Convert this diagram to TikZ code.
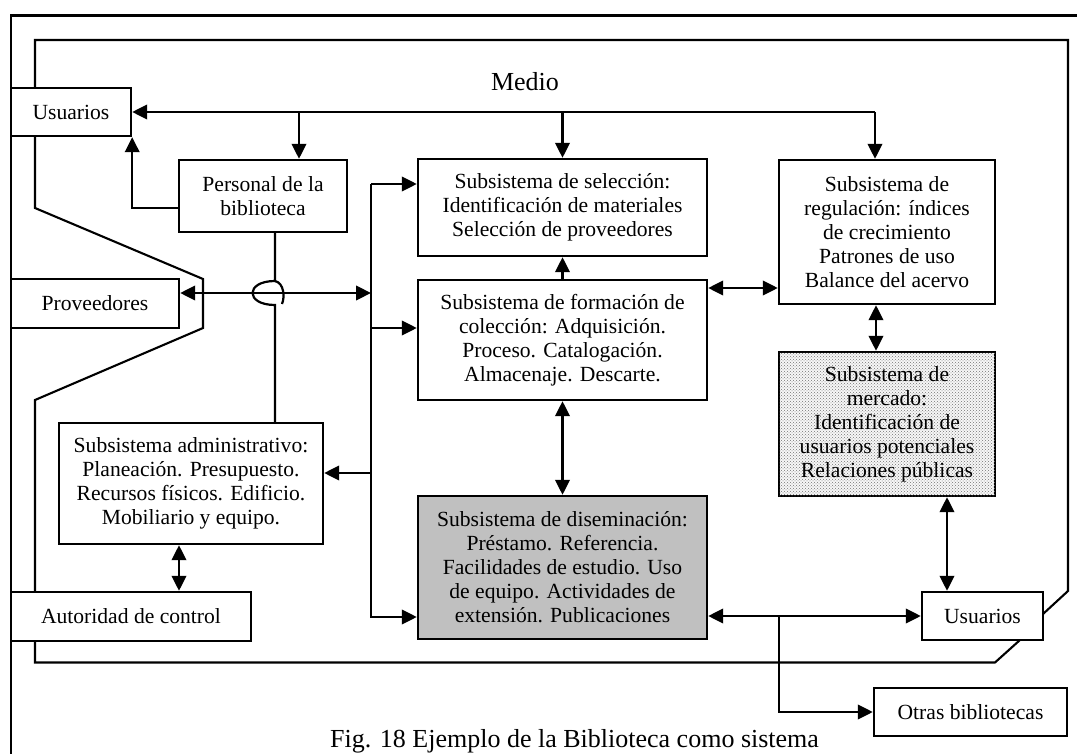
\documentclass[tikz,border=0pt]{standalone}
\usepackage{fontspec}
\setmainfont{Liberation Serif}
\usetikzlibrary{arrows.meta,patterns,calc}

\newcommand\boxfont{\fontsize{21.6pt}{24pt}\selectfont}
\newcommand\bigfont{\fontsize{26pt}{30pt}\selectfont}
\definecolor{disgray}{HTML}{C0C0C0}

\tikzset{
  box/.style={draw, line width=2.4pt, fill=white, align=center, inner sep=0pt, font=\boxfont},
  wire/.style={line width=2.2pt},
  frame/.style={line width=2.2pt},
  envline/.style={line width=2.1pt},
  >={Triangle[length=15pt,width=14.5pt]}
}

\begin{document}
\begin{tikzpicture}[x=1pt,y=-1pt]
\clip (0,0) rectangle (1077,754);

% outer frame of the figure
\draw[frame] (11,770) -- (11,15.5) -- (1090,15.5);

% boundary of the environment ("Medio")
\draw[envline] (35,88) -- (35,40) -- (1068,40) -- (1068,591) -- (1043,614);
\draw[envline] (1020,640) -- (995,662.5) -- (35,662.5) -- (35,641);
\draw[envline] (35,136) -- (35,208) -- (203,279) -- (203,328) -- (35,400) -- (35,592);
\node[font=\bigfont] (medio) at (525,82) {Medio};

% boxes
\node[box, minimum width=120pt, minimum height=48pt] (usrA) at (71,112) {Usuarios};
\node[box, minimum width=168pt, minimum height=72pt] (personal) at (263,196) {Personal de la\\biblioteca};
\node[box, minimum width=289pt, minimum height=97pt] (sel) at (562.5,207.5)
  {Subsistema de selección:\\Identificación de materiales\\Selección de proveedores};
\node[box, minimum width=289pt, minimum height=120pt] (form) at (562.5,340)
  {Subsistema de formación de\\colección: Adquisición.\\Proceso. Catalogación.\\Almacenaje. Descarte.};
\node[box, fill=disgray, minimum width=289pt, minimum height=143pt] (dis) at (562.5,567.5)
  {Subsistema de diseminación:\\Préstamo. Referencia.\\Facilidades de estudio. Uso\\de equipo. Actividades de\\extensión. Publicaciones};
\node[box, minimum width=216pt, minimum height=144pt] (reg) at (887,232)
  {Subsistema de\\regulación: índices\\de crecimiento\\Patrones de uso\\Balance del acervo};
\node[box, fill=gray!6, postaction={pattern=crosshatch dots, pattern color=black!55},
      minimum width=216pt, minimum height=144pt] (merc) at (887,424)
  {Subsistema de\\mercado:\\Identificación de\\usuarios potenciales\\Relaciones públicas};
\node[box, minimum width=121pt, minimum height=48pt] (usrB) at (982.5,616) {Usuarios};
\node[box, minimum width=193pt, minimum height=48pt] (otras) at (970.5,712) {Otras bibliotecas};
\node[box, minimum width=168pt, minimum height=49pt] (prov) at (95,303.5) {Proveedores};
\node[box, minimum width=264pt, minimum height=121pt] (admin) at (191,483.5)
  {Subsistema administrativo:\\Planeación. Presupuesto.\\Recursos físicos. Edificio.\\Mobiliario y equipo.};
\node[box, minimum width=240pt, minimum height=49pt] (autor) at (131,616.5) {Autoridad de control};

% top distribution line
\coordinate (tbR) at (875,112);
\coordinate (tbP) at (299,112);
\draw[wire,->] (tbR) -- (usrA.east);
\draw[wire,->] (tbR) -- (tbR |- reg.north);
\draw[wire,->] (tbP) -- (tbP |- personal.north);
\draw[wire,->] (sel.north |- tbR) -- (sel.north);
\draw[wire,->] ($(personal.west)+(0,12)$) -| (usrA.south east);

% staff line with a bridge over the suppliers line
\coordinate (jx) at (275,293);
\draw[wire] (jx |- personal.south) -- (275,281)
  .. controls (245,281) and (245,305) .. (275,305) -- (jx |- admin.north);
\draw[wire] (275,281) .. controls (284,283) and (285,297) .. (282,304);

% vertical distribution bus
\coordinate (busT) at (371,184);
\coordinate (busB) at (371,617);
\coordinate (bF) at (371,328);
\coordinate (bA) at (371,473);
\draw[wire,<->] (prov.east |- jx) -- (jx -| busT);
\draw[wire,->] (busT) -- (busB) -- (busB -| dis.west);
\draw[wire,->] (busT) -- (busT -| sel.west);
\draw[wire,->] (bF) -- (bF -| form.west);
\draw[wire,->] (bA) -- (bA -| admin.east);

% links between subsystems
\coordinate (fr) at (0,288);
\coordinate (rm) at (876,0);
\coordinate (mu) at (947,0);
\coordinate (ax) at (179,0);
\coordinate (ob) at (779,617);
\draw[wire,->] (form.north) -- (sel.south);
\draw[wire,<->] (form.east |- fr) -- (reg.west |- fr);
\draw[wire,<->] (form.south) -- (dis.north);
\draw[wire,<->] (reg.south -| rm) -- (merc.north -| rm);
\draw[wire,<->] (merc.south -| mu) -- (usrB.north -| mu);
\draw[wire,<->] (dis.east |- usrB.west) -- (usrB.west);
\draw[wire,->] (ob) |- (otras.west);
\draw[wire,<->] (admin.south -| ax) -- (autor.north -| ax);

% caption
\node[font=\bigfont, anchor=base] (cap) at (574.5,747) {Fig. 18 Ejemplo de la Biblioteca como sistema};
\end{tikzpicture}
\end{document}
